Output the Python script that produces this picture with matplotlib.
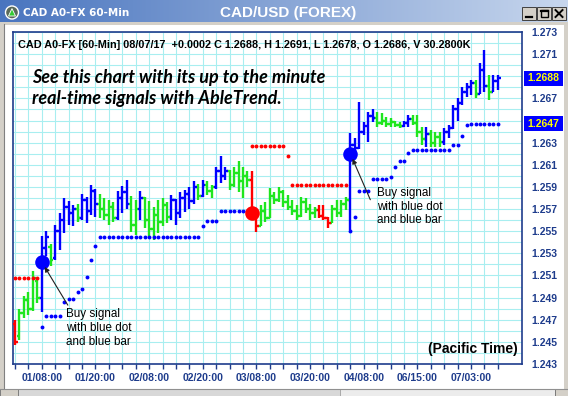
import numpy as np
import matplotlib.pyplot as plt
from matplotlib.patches import Rectangle, Circle, Polygon
from matplotlib.transforms import blended_transform_factory

# CAD A0-FX 60-minute bars with AbleTrend colouring
# b = uptrend (blue), g = neutral (green), r = downtrend (red)
trend = list("rgggggbbgb" "bbbbgbbbbg" "gggbbbggbg" "gggggbbbbb" "bgbggbbbgg"
             "gggrrggggg" "ggggggggrr" "rggggbbbbb" "bggggggbbg" "ggbgggbbbb"
             "bbbgbbgbb")

bar_open = [1.2466, 1.2455, 1.2476, 1.2488, 1.2480, 1.2505, 1.2490, 1.2535, 1.2536, 1.2526,
            1.2550, 1.2560, 1.2572, 1.2566, 1.2570, 1.2562, 1.2578, 1.2568, 1.2586, 1.2575,
            1.2570, 1.2565, 1.2572, 1.2562, 1.2580, 1.2585, 1.2575, 1.2556, 1.2570, 1.2580,
            1.2560, 1.2552, 1.2565, 1.2558, 1.2574, 1.2563, 1.2578, 1.2566, 1.2580, 1.2584,
            1.2577, 1.2590, 1.2582, 1.2592, 1.2586, 1.2590, 1.2604, 1.2600, 1.2604, 1.2592,
            1.2603, 1.2595, 1.2600, 1.2596, 1.2563, 1.2555, 1.2568, 1.2562, 1.2582, 1.2578,
            1.2585, 1.2576, 1.2572, 1.2568, 1.2564, 1.2576, 1.2570, 1.2566, 1.2569, 1.2564,
            1.2562, 1.2557, 1.2570, 1.2566, 1.2575, 1.2578, 1.2628, 1.2625, 1.2640, 1.2645,
            1.2654, 1.2652, 1.2648, 1.2650, 1.2647, 1.2649, 1.2646, 1.2645, 1.2648, 1.2651,
            1.2648, 1.2640, 1.2633, 1.2638, 1.2630, 1.2635, 1.2631, 1.2640, 1.2643, 1.2660,
            1.2666, 1.2676, 1.2680, 1.2684, 1.2674, 1.2696, 1.2681, 1.2676, 1.2686]
bar_high = [1.2470, 1.2480, 1.2491, 1.2495, 1.2514, 1.2508, 1.2546, 1.2550, 1.2538, 1.2556,
            1.2566, 1.2580, 1.2577, 1.2574, 1.2575, 1.2584, 1.2581, 1.2592, 1.2588, 1.2584,
            1.2580, 1.2578, 1.2576, 1.2586, 1.2591, 1.2596, 1.2582, 1.2578, 1.2586, 1.2581,
            1.2577, 1.2572, 1.2578, 1.2580, 1.2576, 1.2583, 1.2579, 1.2585, 1.2587, 1.2590,
            1.2595, 1.2593, 1.2596, 1.2595, 1.2592, 1.2608, 1.2618, 1.2608, 1.2605, 1.2608,
            1.2613, 1.2608, 1.2604, 1.2604, 1.2568, 1.2574, 1.2576, 1.2589, 1.2585, 1.2590,
            1.2587, 1.2583, 1.2578, 1.2574, 1.2581, 1.2580, 1.2575, 1.2572, 1.2574, 1.2574,
            1.2563, 1.2574, 1.2578, 1.2578, 1.2581, 1.2639, 1.2634, 1.2667, 1.2649, 1.2658,
            1.2660, 1.2658, 1.2657, 1.2653, 1.2652, 1.2650, 1.2649, 1.2650, 1.2655, 1.2655,
            1.2655, 1.2644, 1.2644, 1.2641, 1.2640, 1.2640, 1.2643, 1.2646, 1.2664, 1.2670,
            1.2680, 1.2684, 1.2687, 1.2687, 1.2702, 1.2714, 1.2691, 1.2691, 1.2691]
bar_low = [1.2447, 1.2452, 1.2472, 1.2474, 1.2478, 1.2485, 1.2477, 1.2528, 1.2519, 1.2524,
           1.2533, 1.2548, 1.2556, 1.2555, 1.2558, 1.2560, 1.2557, 1.2565, 1.2563, 1.2562,
           1.2560, 1.2556, 1.2558, 1.2560, 1.2566, 1.2570, 1.2549, 1.2547, 1.2560, 1.2553,
           1.2545, 1.2542, 1.2548, 1.2555, 1.2557, 1.2560, 1.2556, 1.2562, 1.2567, 1.2570,
           1.2575, 1.2578, 1.2581, 1.2583, 1.2580, 1.2588, 1.2594, 1.2596, 1.2587, 1.2590,
           1.2585, 1.2580, 1.2590, 1.2560, 1.2549, 1.2555, 1.2558, 1.2562, 1.2575, 1.2576,
           1.2572, 1.2569, 1.2565, 1.2560, 1.2563, 1.2566, 1.2560, 1.2562, 1.2562, 1.2560,
           1.2553, 1.2557, 1.2563, 1.2563, 1.2569, 1.2551, 1.2620, 1.2624, 1.2637, 1.2631,
           1.2649, 1.2644, 1.2646, 1.2644, 1.2644, 1.2644, 1.2643, 1.2644, 1.2644, 1.2646,
           1.2635, 1.2628, 1.2626, 1.2626, 1.2626, 1.2626, 1.2628, 1.2634, 1.2642, 1.2650,
           1.2664, 1.2671, 1.2673, 1.2670, 1.2674, 1.2676, 1.2669, 1.2676, 1.2678]
bar_close = [1.2450, 1.2476, 1.2488, 1.2480, 1.2508, 1.2490, 1.2535, 1.2545, 1.2524, 1.2550,
             1.2560, 1.2572, 1.2566, 1.2570, 1.2562, 1.2578, 1.2568, 1.2586, 1.2575, 1.2570,
             1.2565, 1.2572, 1.2562, 1.2580, 1.2585, 1.2575, 1.2556, 1.2570, 1.2580, 1.2560,
             1.2552, 1.2565, 1.2558, 1.2574, 1.2563, 1.2578, 1.2566, 1.2580, 1.2584, 1.2577,
             1.2590, 1.2582, 1.2592, 1.2586, 1.2590, 1.2604, 1.2600, 1.2604, 1.2592, 1.2603,
             1.2595, 1.2600, 1.2596, 1.2563, 1.2555, 1.2568, 1.2562, 1.2582, 1.2578, 1.2585,
             1.2576, 1.2572, 1.2568, 1.2564, 1.2576, 1.2570, 1.2566, 1.2569, 1.2564, 1.2562,
             1.2557, 1.2570, 1.2566, 1.2575, 1.2578, 1.2628, 1.2625, 1.2640, 1.2645, 1.2654,
             1.2652, 1.2648, 1.2650, 1.2647, 1.2649, 1.2646, 1.2645, 1.2648, 1.2651, 1.2648,
             1.2640, 1.2633, 1.2638, 1.2630, 1.2635, 1.2631, 1.2640, 1.2643, 1.2660, 1.2666,
             1.2676, 1.2680, 1.2684, 1.2674, 1.2696, 1.2681, 1.2676, 1.2686, 1.2688]

# trailing stops: blue dots under an uptrend, red dots over a downtrend
blue_stop_start = [6, 75]
blue_stops = [[1.2463, 1.2473, 1.2473, 1.2473, 1.2473, 1.2486, 1.2489, 1.2489, 1.2495, 1.2498,
               1.2509, 1.2524, 1.2537, 1.2545, 1.2545, 1.2545, 1.2545, 1.2545, 1.2545, 1.2545,
               1.2545, 1.2545, 1.2545, 1.2545, 1.2545, 1.2545, 1.2545, 1.2545, 1.2545, 1.2545,
               1.2545, 1.2545, 1.2545, 1.2545, 1.2545, 1.2545, 1.2555, 1.2559, 1.2559, 1.2559,
               1.2568, 1.2568, 1.2568, 1.2568, 1.2568, 1.2568, 1.2568],
              [1.2550, 1.2563, 1.2586, 1.2586, 1.2586, 1.2597, 1.2597, 1.2597, 1.2597, 1.2599,
               1.2608, 1.2613, 1.2613, 1.2621, 1.2623, 1.2623, 1.2623, 1.2623, 1.2623, 1.2623,
               1.2623, 1.2623, 1.2623, 1.2628, 1.2628, 1.2636, 1.2646, 1.2647, 1.2647, 1.2647,
               1.2647, 1.2647, 1.2647, 1.2647]]
red_stop_start = [0, 53]
red_stops = [[1.2508, 1.2508, 1.2508, 1.2508, 1.2508, 1.2508],
             [1.2627, 1.2627, 1.2627, 1.2627, 1.2627, 1.2627, 1.2627, 1.2627, 1.2618, 1.2592,
              1.2592, 1.2592, 1.2592, 1.2592, 1.2592, 1.2592, 1.2592, 1.2592, 1.2592, 1.2592,
              1.2592, 1.2592]]

# signal dots
buy_bars = [6, 75]
buy_prices = [1.2522, 1.2620]
sell_bars = [53]
sell_prices = [1.2566]

time_labels = ['01/08:00', '01/20:00', '02/08:00', '02/20:00', '03/08:00',
               '03/20:00', '04/08:00', '06/15:00', '07/03:00']
time_label_bars = [6, 18, 30, 42, 54, 66, 78, 90, 102]
price_ticks = [1.243, 1.245, 1.247, 1.249, 1.251, 1.253, 1.255, 1.257,
               1.259, 1.261, 1.263, 1.265, 1.267, 1.269, 1.271, 1.273]

W, H = 568, 396
trend_colors = {'b': '#0000ff', 'g': '#1ee61e', 'r': '#ff0000'}
axis_blue = '#1e3c8c'

fig = plt.figure(figsize=(W / 100, H / 100), dpi=100)
fig.patch.set_facecolor('white')

# window chrome drawn in pixel coordinates
chrome = fig.add_axes([0, 0, 1, 1])
chrome.set_xlim(0, W)
chrome.set_ylim(H, 0)
chrome.axis('off')

grad = np.linspace(0, 1, 256)
c0 = np.array([0.29, 0.46, 0.75])
c1 = np.array([0.78, 0.84, 0.93])
title_img = (c0[None, :] * (1 - grad[:, None]) + c1[None, :] * grad[:, None])[None, :, :]
chrome.imshow(title_img, extent=(0, W, 22, 0), aspect='auto', zorder=1)
chrome.add_patch(Rectangle((0, 22), W, 2.5, fc='#d4d0c8', ec='none', zorder=1))
chrome.add_patch(Rectangle((0, 22), 4, H, fc='#d4d0c8', ec='none', zorder=1))
chrome.plot([4, 4], [24, 389], color='#808080', lw=0.8, zorder=2)
chrome.add_patch(Rectangle((564, 22), 4, H, fc='#d4d0c8', ec='none', zorder=1))

# scroll bar along the bottom
chrome.add_patch(Rectangle((0, 389), W, 7, fc='#d8d8d8', ec='none', hatch='....',
                           zorder=1, lw=0))
chrome.add_patch(Rectangle((340, 389), 215, 7, fc='#ececec', ec='#a0a0a0', lw=0.6, zorder=2))
chrome.add_patch(Rectangle((0, 389), 18, 7, fc='#d4d0c8', ec='#707070', lw=0.6, zorder=2))
chrome.add_patch(Rectangle((555, 389), 13, 7, fc='#d4d0c8', ec='#707070', lw=0.6, zorder=2))
chrome.plot([0, W], [389, 389], color='#909090', lw=0.8, zorder=3)

# title bar icon, captions and window buttons
chrome.add_patch(Circle((12, 12.5), 6.5, fc='#5a6a5a', ec='white', lw=1.0, zorder=3))
chrome.add_patch(Polygon([[8.5, 16], [15.5, 16], [12, 8.5]], closed=True, fc='#33cc33',
                         ec='white', lw=0.6, zorder=4))
chrome.text(23, 13, 'CAD A0-FX 60-Min', color='white', fontsize=7.5, fontweight='bold',
            family='DejaVu Sans', va='center', ha='left', zorder=4)
chrome.text(288, 12.5, 'CAD/USD (FOREX)', color='white', fontsize=11, fontweight='bold',
            family='Liberation Sans', va='center', ha='center', zorder=4)
for bx in (522, 537, 552):
    chrome.add_patch(Rectangle((bx, 7), 14, 13, fc='#d4d0c8', ec='#404040', lw=0.7, zorder=3))
chrome.plot([525.5, 532], [17, 17], color='black', lw=1.6, zorder=4)
chrome.add_patch(Rectangle((540.5, 10), 7, 7, fc='none', ec='black', lw=1.0, zorder=4))
chrome.plot([540.5, 547.5], [10.5, 10.5], color='black', lw=1.6, zorder=4)
chrome.plot([555.5, 562.5], [10, 17], color='black', lw=1.4, zorder=4)
chrome.plot([555.5, 562.5], [17, 10], color='black', lw=1.4, zorder=4)

# price panel
ax = fig.add_axes([13 / W, 1 - 364 / H, 509 / W, 332 / H])
ax.set_facecolor('white')
ax.set_xlim(-0.45, 113.4)
ax.set_ylim(1.243, 1.273)

x = np.arange(len(bar_close))
cols = [trend_colors[t] for t in trend]
ax.vlines(x, bar_low, bar_high, colors=cols, lw=1.7, zorder=3)
ax.hlines(bar_open, x - 0.6, x, colors=cols, lw=1.7, zorder=3)
ax.hlines(bar_close, x, x + 0.6, colors=cols, lw=1.7, zorder=3)

for start, vals in zip(blue_stop_start, blue_stops):
    ax.plot(np.arange(start, start + len(vals)), vals, 'o', color='#0000ff', ms=2.8, mew=0,
            zorder=4)
for start, vals in zip(red_stop_start, red_stops):
    ax.plot(np.arange(start, start + len(vals)), vals, 'o', color='#ff0000', ms=2.8, mew=0,
            zorder=4)

ax.plot(buy_bars, buy_prices, 'o', color='#0000ff', ms=10.5, mew=0, zorder=5)
ax.plot(sell_bars, sell_prices, 'o', color='#ff0000', ms=10.5, mew=0, zorder=5)

# grid every 3 bars and every 0.001
ax.set_xticks(np.arange(0, 109, 3))
ax.set_xticklabels([time_labels[time_label_bars.index(t)] if t in time_label_bars else ''
                    for t in range(0, 109, 3)])
ax.set_yticks(price_ticks)
ax.set_yticks(np.arange(1.244, 1.273, 0.002), minor=True)
ax.grid(True, which='both', color='#a8eef0', lw=0.8, zorder=0)
ax.set_axisbelow(True)

last_close = bar_close[-1]
last_stop = blue_stops[-1][-1]
ax.set_yticklabels(['' if abs(p - 1.269) < 1e-6 or abs(p - 1.265) < 1e-6 else f'{p:.3f}'
                    for p in price_ticks])
ax.yaxis.tick_right()
ax.tick_params(axis='y', which='both', length=0, pad=6.5, labelsize=7.5,
               labelcolor=axis_blue)
ax.tick_params(axis='x', which='major', direction='out', length=3.6, width=1.0,
               color=axis_blue, pad=3, labelsize=7.5, labelcolor=axis_blue)
for lab in ax.get_xticklabels() + ax.get_yticklabels():
    lab.set_fontweight('bold')
    lab.set_family('Liberation Sans')
for sp in ax.spines.values():
    sp.set_color(axis_blue)
    sp.set_linewidth(1.2)

# last close and current stop boxes on the price scale
trans = blended_transform_factory(ax.transAxes, ax.transData)
for val in (last_close, last_stop):
    ax.add_patch(Rectangle(((524 - 13) / 509, val - 0.00068), 39 / 509, 0.00136,
                           transform=trans, fc='#0000ff', ec='none', clip_on=False, zorder=6))
    ax.text((543.5 - 13) / 509, val, f'{val:.4f}', transform=trans, color='#ffff00',
            fontsize=7.5, fontweight='bold', family='Liberation Sans', ha='center',
            va='center', clip_on=False, zorder=7)

# header line from the last bar
header = (f'CAD A0-FX [60-Min] 08/07/17  {last_close - bar_close[-2]:+.4f} C {last_close:.4f}, '
          f'H {bar_high[-1]:.4f}, L {bar_low[-1]:.4f}, O {bar_open[-1]:.4f}, V 30.2800K')
fig.text(18 / W, 1 - 45 / H, header, fontsize=7.8, fontweight='bold', family='Liberation Sans',
         va='center', ha='left')

fig.text(32 / W, 1 - 83 / H, 'See this chart with its up to the minute', fontsize=13,
         fontweight='bold', style='italic', family='Lato', va='baseline', ha='left')
fig.text(32 / W, 1 - 104 / H, 'real-time signals with AbleTrend.', fontsize=13,
         fontweight='bold', style='italic', family='Lato', va='baseline', ha='left')

# buy signal call-outs
note = 'Buy signal\nwith blue dot\nand blue bar'
for (bar, price), (tx, ty), (ax_, ay_) in zip(zip(buy_bars, buy_prices),
                                               [(24, -46), (27, -33)],
                                               [(26, -43), (20, -46)]):
    ax.annotate('', xy=(bar, price), xytext=(ax_, ay_), textcoords='offset pixels',
                arrowprops=dict(arrowstyle='-|>', color='#202020', lw=0.8,
                                mutation_scale=7, shrinkA=0, shrinkB=4), zorder=6)
    ax.annotate(note, xy=(bar, price), xytext=(tx, ty), textcoords='offset pixels',
                fontsize=8.4, family='Liberation Sans', ha='left', va='top',
                linespacing=1.2, zorder=6)

ax.text(0.992, 0.024, '(Pacific Time)', transform=ax.transAxes, fontsize=10,
        fontweight='bold', family='Liberation Sans', ha='right', va='bottom')

fig.savefig('out.png', dpi=100)
